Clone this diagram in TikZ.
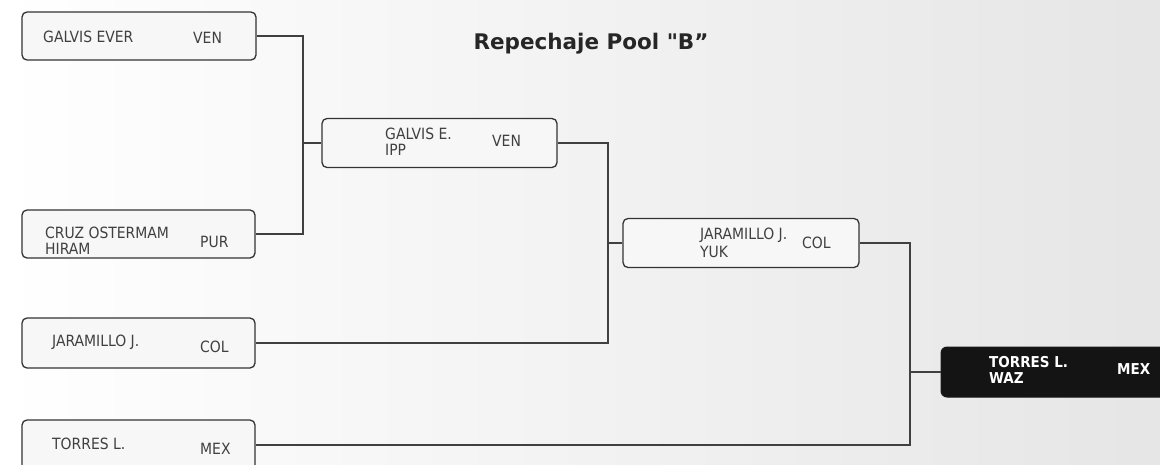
\documentclass[tikz,border=0pt]{standalone}
\usepackage{fontspec}
\setmainfont{DejaVu Sans}
\newfontfamily\boxfont{DejaVu Sans Condensed}
\newfontfamily\titlefont{DejaVu Sans}
\begin{document}
\begin{tikzpicture}[x=1pt,y=-1pt,
  entry/.style={draw=black!80,line width=1.3pt,rounded corners=5pt,fill=white!97!black,minimum height=48pt,inner sep=0pt},
  winner/.style={draw=black!90,line width=1pt,rounded corners=6pt,fill=black!92,minimum height=50pt,inner sep=0pt},
  nm/.style={anchor=west,font=\boxfont\fontsize{15.5}{13}\selectfont,text=black!75,align=left,inner sep=0pt},
  nmw/.style={anchor=west,font=\boxfont\bfseries\fontsize{15}{13}\selectfont,text=white,align=left,inner sep=0pt},
  wire/.style={draw=black!75,line width=1.2pt}]
\shade[left color=white,right color=black!10] (0,0) rectangle (1160,464);
\useasboundingbox (0,0) rectangle (1160,464);
\node[font=\titlefont\bfseries\fontsize{21.5}{24}\selectfont,text=black!85] (title) at (591,44) {Repechaje Pool "B”};
% round 1
\node[entry,minimum width=234pt] (b1) at (139,36) {};
\node[entry,minimum width=233pt] (b2) at (138.5,234) {};
\node[entry,minimum width=233pt,minimum height=50pt] (b3) at (138.5,343) {};
\node[entry,minimum width=233pt,minimum height=50pt] (b4) at (138.5,445) {};
% round 2
\node[entry,minimum width=235pt,minimum height=49pt] (b5) at (439.5,143) {};
\node[entry,minimum width=236pt,minimum height=49pt] (b6) at (741,243) {};
\node[winner,minimum width=250pt] (b7) at (1066,372) {};
% texts
\node[nm] (t1) at (43,37) {GALVIS EVER};
\node[nm] (c1) at (193,38) {VEN};
\node[nm] (t2) at (45,241) {CRUZ OSTERMAM\\[3pt]HIRAM};
\node[nm] (c2) at (200,242) {PUR};
\node[nm] (t3) at (52,342) {JARAMILLO J.};
\node[nm] (c3) at (200,347) {COL};
\node[nm] (t4) at (52,444) {TORRES L.};
\node[nm] (c4) at (200,449) {MEX};
\node[nm] (t5) at (385,142) {GALVIS E.\\[3pt]IPP};
\node[nm] (c5) at (492,141) {VEN};
\node[nm] (t6) at (700,243) {JARAMILLO J.\\[3pt]YUK};
\node[nm] (c6) at (802,243) {COL};
\node[nmw] (t7) at (989,370) {TORRES L.\\[3pt]WAZ};
\node[nmw] (c7) at (1117,369) {MEX};
% connectors
\coordinate (j1) at (303,143);
\coordinate (j2) at (608,243);
\coordinate (j3) at (910,372);
\draw[wire] (b1.east) -| (j1) |- (b2.east);
\draw[wire] (j1) -- (b5.west);
\draw[wire] (b5.east) -| (j2) |- (b3.east);
\draw[wire] (j2) -- (b6.west);
\draw[wire] (b6.east) -| (j3) |- (b4.east);
\draw[wire] (j3) -- (b7.west);
\end{tikzpicture}
\end{document}
